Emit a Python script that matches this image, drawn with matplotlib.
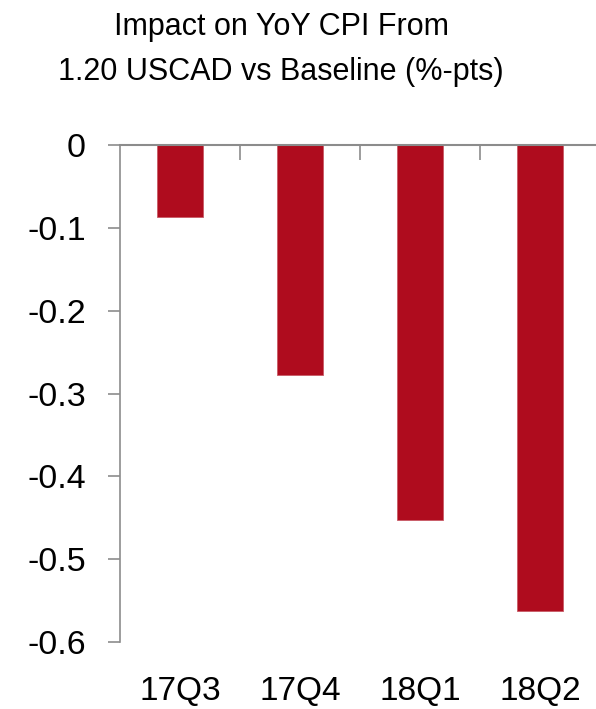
import matplotlib
matplotlib.use("Agg")
import matplotlib.pyplot as plt
import matplotlib.transforms as mtransforms

categories = ["17Q3", "17Q4", "18Q1", "18Q2"]
values = [-0.087, -0.278, -0.453, -0.563]
yticks = [0, -0.1, -0.2, -0.3, -0.4, -0.5, -0.6]
ytick_labels = ["0", "-0.1", "-0.2", "-0.3", "-0.4", "-0.5", "-0.6"]
title_lines = ["Impact on YoY CPI From", "1.20 USCAD vs Baseline (%-pts)"]

plt.rcParams['font.family'] = ['Liberation Sans', 'DejaVu Sans']
W, H = 596, 709
fig = plt.figure(figsize=(W/100, H/100), dpi=100)
ax = fig.add_axes([120/W, 1-642/H, 480/W, 497/H])

x = list(range(len(categories)))
ax.bar(x, values, width=0.39, color="#AF0C1E", edgecolor="#C85A66", linewidth=0.6, zorder=2)
ax.set_xlim(-0.5, len(categories) - 0.5)
ax.set_ylim(-0.6, 0)

ax.set_yticks(yticks)
ax.set_yticklabels(ytick_labels, fontsize=24.5)
ax.tick_params(axis='y', direction='out', length=9, width=1.2, color="#8C8C8C", pad=15.5)

ax.set_xticks([i + 0.5 for i in x[:-1]])
ax.set_xticklabels([])
ax.tick_params(axis='x', direction='in', length=11, width=1.2, color="#8C8C8C")
offset = mtransforms.ScaledTranslation(0, -58/100, fig.dpi_scale_trans)
for i, c in enumerate(categories):
    ax.text(i, -0.6, c, ha='center', va='baseline', fontsize=24,
            transform=ax.transData + offset)

for s in ['right', 'bottom']:
    ax.spines[s].set_visible(False)
ax.spines['left'].set_color("#8C8C8C")
ax.spines['left'].set_linewidth(1.2)
ax.spines['top'].set_color("#8C8C8C")
ax.spines['top'].set_linewidth(1.5)
ax.spines['top'].set_zorder(3)
ax.xaxis.set_ticks_position('top')

fig.text(281/W, 1-35/H, title_lines[0], ha='center', va='baseline', fontsize=22)
fig.text(281/W, 1-80/H, title_lines[1], ha='center', va='baseline', fontsize=22)

fig.savefig("out.png", dpi=100)
